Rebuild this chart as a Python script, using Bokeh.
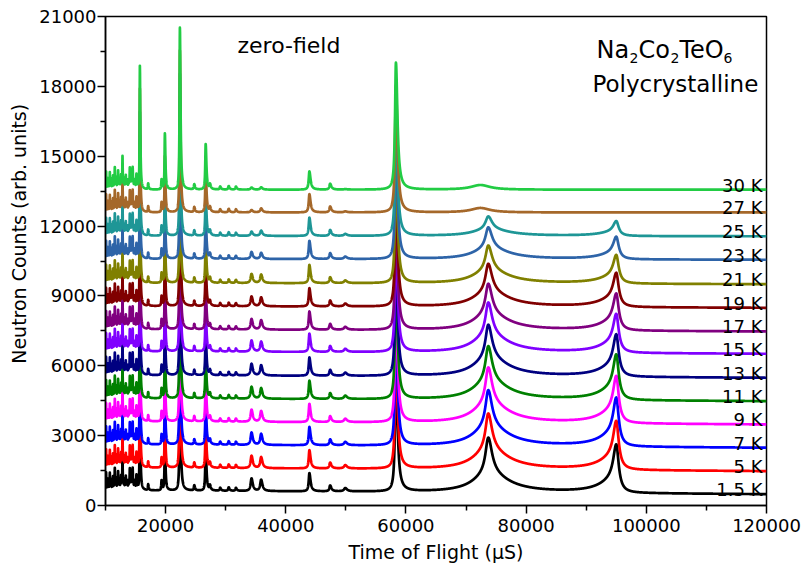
import numpy as np
from bokeh.plotting import figure
from bokeh.models import Range1d, FixedTicker, Label, BasicTickFormatter
from bokeh.embed import file_html
from bokeh.resources import INLINE

# ---------------------------------------------------------------- data
temperatures = ["1.5 K", "5 K", "7 K", "9 K", "11 K", "13 K", "15 K",
                "17 K", "19 K", "21 K", "23 K", "25 K", "27 K", "30 K"]
colors = ["#000000", "#ff0000", "#0000ff", "#ff00ff", "#008000", "#000080",
          "#8000ff", "#800080", "#800000", "#808000", "#2e64a8", "#1e9696",
          "#a5682a", "#22cc44"]

# background level of each (offset) trace at long flight times
baselines = [480, 1470, 2475, 3476, 4476, 5480, 6510, 7470, 8485, 9500,
             10550, 11560, 12585, 13562]
# extra background at 10000 µs relative to 120000 µs
bg_tilt = [170, 160, 150, 140, 130, 120, 110, 100, 80, 60, 40, 20, 0, 0]

# nuclear Bragg reflections (same at every temperature)
nuclear_pos = [15720, 17100, 19330, 19880, 22380, 24770, 26670, 27380,
               29080, 30500, 31700, 43930, 47380, 58330]
nuclear_amp = [5300, 250, 420, 2400, 6950, 220, 1950, 200,
               130, 150, 130, 780, 250, 5450]

# dense reflections at short flight times
short_tof_pos = [10100, 10250, 10400, 10550, 10720, 10850, 10950, 11100,
                 11250, 11400, 11550, 11700, 11800, 11950, 12100, 12230,
                 12350, 12480, 12600, 12720, 12830, 12970, 13100, 13240,
                 13380, 13520, 13650, 13800, 13920, 14050, 14180, 14300,
                 14420, 14520, 14650, 14800, 14950, 15150, 15350]
short_tof_amp = [750, 300, 450, 350, 700, 300, 400, 250,
                 550, 300, 900, 350, 450, 300, 750, 300,
                 400, 250, 550, 300, 1350, 300, 400, 250,
                 550, 300, 350, 250, 300, 850, 300, 450,
                 300, 850, 250, 350, 300, 600, 350]

# temperature dependent reflections (amplitude per temperature)
peak_34300 = [540, 530, 530, 520, 510, 500, 480, 450, 420, 390, 300, 180, 100, 90]
peak_35900 = [480, 470, 470, 460, 450, 440, 430, 400, 380, 360, 260, 220, 170, 100]
peak_49900 = [140, 140, 140, 140, 140, 130, 130, 120, 120, 110, 100, 80, 40, 20]
peak_73700 = [2350, 2400, 2400, 2380, 2300, 2220, 2150, 2000, 1850, 1630,
              1370, 840, 0, 0]
peak_95000 = [2080, 2100, 2100, 2030, 1960, 1820, 1670, 1590, 1470, 1230,
              970, 640, 0, 0]
diffuse_72400 = [0, 0, 0, 0, 0, 0, 0, 0, 0, 0, 0, 0, 190, 200]


# ---------------------------------------------------------------- profiles
def lorentz(x, x0, amp, gl, gr):
    g = np.where(x < x0, gl, gr)
    return amp / (1.0 + ((x - x0) / g) ** 2)


centres = (nuclear_pos + short_tof_pos +
           [34300, 35900, 49900, 73700, 95000, 72400])
tof = np.unique(np.concatenate([np.arange(10000, 120001, 20),
                                np.array(centres, dtype=float)]))


def trace(i):
    y = baselines[i] + bg_tilt[i] * (120000 - tof) / 110000.0
    for x0, a in zip(nuclear_pos, nuclear_amp):
        y += lorentz(tof, x0, a, 0.003 * x0, 0.0052 * x0)
    for x0, a in zip(short_tof_pos, short_tof_amp):
        y += lorentz(tof, x0, a, 0.003 * x0, 0.003 * x0)
    for x0, amps in ((34300, peak_34300), (35900, peak_35900),
                     (49900, peak_49900)):
        y += lorentz(tof, x0, amps[i], 0.005 * x0, 0.007 * x0)
    a = peak_73700[i]
    y += lorentz(tof, 73700, 0.66 * a, 550, 750)
    y += lorentz(tof, 73700, 0.34 * a, 3000, 4000)
    a = peak_95000[i]
    y += lorentz(tof, 95000, 0.71 * a, 600, 450)
    y += lorentz(tof, 95000, 0.29 * a, 3000, 600)
    y += lorentz(tof, 72400, diffuse_72400[i], 1900, 1900)
    return y


# ---------------------------------------------------------------- figure
FONT = "DejaVu Sans"
p = figure(width=802, height=570, output_backend="svg", toolbar_location=None,
           x_range=Range1d(10000, 120000), y_range=Range1d(0, 21000),
           min_border_left=105, min_border_right=36,
           min_border_top=16, min_border_bottom=65)

p.xgrid.visible = False
p.ygrid.visible = False
p.outline_line_color = "black"
p.outline_line_width = 1.5
p.outline_line_alpha = 1.0
p.background_fill_color = "white"
p.border_fill_color = "white"

for i in range(len(temperatures)):
    p.line(tof, trace(i), line_color=colors[i], line_width=2.7,
           line_join="round")

p.xaxis.ticker = FixedTicker(ticks=[20000, 40000, 60000, 80000, 100000, 120000],
                             minor_ticks=[10000, 30000, 50000, 70000, 90000, 110000])
p.yaxis.ticker = FixedTicker(ticks=list(range(0, 21001, 3000)),
                             minor_ticks=list(range(1500, 21000, 3000)))
for ax in (p.xaxis[0], p.yaxis[0]):
    ax.formatter = BasicTickFormatter(use_scientific=False)
    ax.axis_line_width = 1.5
    ax.major_tick_line_width = 1.5
    ax.minor_tick_line_width = 1.5
    ax.major_tick_out = 8
    ax.major_tick_in = 0
    ax.minor_tick_out = 5
    ax.minor_tick_in = 0
    ax.major_label_text_font = FONT
    ax.major_label_text_font_size = "18px"
    ax.major_label_text_color = "black"
    ax.axis_label_text_font = FONT
    ax.axis_label_text_font_size = "19px"
    ax.axis_label_text_font_style = "normal"
    ax.axis_label_text_color = "black"

p.xaxis.axis_label = "Time of Flight (\u03bcS)"
# leading no-break spaces lift the rotated title above the frame centre
p.yaxis.axis_label = "\u00a0" * 9 + "Neutron Counts (arb. units)"
p.xaxis.major_label_standoff = 5
p.xaxis.axis_label_standoff = 6
p.yaxis.major_label_standoff = 1
p.yaxis.axis_label_standoff = 6


# helpers converting frame pixels to data coordinates for text placement
def dx(px):
    return 10000 + (px - 105) * 110000 / 661.0


def dy(py):
    return (505 - py) * 21000 / 489.0


def add_text(px, py, text, size, align="left"):
    p.add_layout(Label(x=dx(px), y=dy(py), text=text, text_font=FONT,
                       text_font_size=size, text_align=align,
                       text_baseline="alphabetic", text_color="black"))


add_text(237, 45, "zero-field", "22px")
# chemical formula with subscripts
add_text(596, 49, "Na", "24px")
add_text(629, 57, "2", "14px")
add_text(638, 49, "Co", "24px")
add_text(670, 57, "2", "14px")
add_text(679, 49, "TeO", "24px")
add_text(723, 57, "6", "14px")
add_text(592, 83, "Polycrystalline", "23px")

for i, t in enumerate(temperatures):
    p.add_layout(Label(x=dx(762), y=baselines[i] + 200, text=t,
                       text_font=FONT, text_font_size="18px",
                       text_align="right", text_baseline="alphabetic",
                       text_color="black"))

open("out.html", "w").write(file_html(p, INLINE))
